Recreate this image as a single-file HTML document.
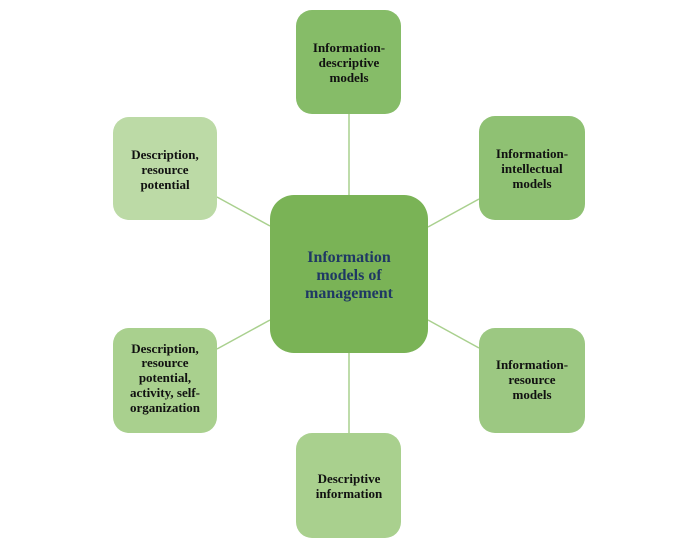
<!DOCTYPE html>
<html><head><style>html,body{margin:0;padding:0;background:#fff}svg{display:block}text{font-family:"Liberation Serif",serif;font-weight:bold;font-size:13px;fill:#111;text-anchor:middle}text.c{font-size:16px;fill:#1f3864}</style></head>
<body>
<svg width="700" height="543" viewBox="0 0 700 543" xmlns="http://www.w3.org/2000/svg">
<g stroke="#a9d08e" stroke-width="1.5">
<line x1="349" y1="114" x2="349" y2="196"/>
<line x1="349" y1="353" x2="349" y2="433"/>
<line x1="217" y1="197" x2="270" y2="226"/>
<line x1="479" y1="199" x2="428" y2="227"/>
<line x1="217" y1="349" x2="270" y2="320"/>
<line x1="479" y1="348" x2="428" y2="320"/>
</g>
<rect x="296" y="10" width="105" height="104" rx="16" fill="#86bc68"/>
<rect x="113" y="117" width="104" height="103" rx="16" fill="#bcdaa6"/>
<rect x="479" y="116" width="106" height="104" rx="16" fill="#8fc173"/>
<rect x="270" y="195" width="158" height="158" rx="24" fill="#7ab356"/>
<rect x="113" y="328" width="104" height="105" rx="16" fill="#a9d08e"/>
<rect x="479" y="328" width="106" height="105" rx="16" fill="#9cc882"/>
<rect x="296" y="433" width="105" height="105" rx="16" fill="#a9d08e"/>
<text x="349" y="52">Information-</text><text x="349" y="67">descriptive</text><text x="349" y="82">models</text>
<text x="165" y="159">Description,</text><text x="165" y="174">resource</text><text x="165" y="189">potential</text>
<text x="532" y="158">Information-</text><text x="532" y="173">intellectual</text><text x="532" y="188">models</text>
<text class="c" x="349" y="262">Information</text><text class="c" x="349" y="280">models of</text><text class="c" x="349" y="298">management</text>
<text x="165" y="353">Description,</text><text x="165" y="367">resource</text><text x="165" y="382">potential,</text><text x="165" y="397">activity, self-</text><text x="165" y="412">organization</text>
<text x="532" y="369">Information-</text><text x="532" y="384">resource</text><text x="532" y="399">models</text>
<text x="349" y="483">Descriptive</text><text x="349" y="498">information</text>
</svg>
</body></html>
